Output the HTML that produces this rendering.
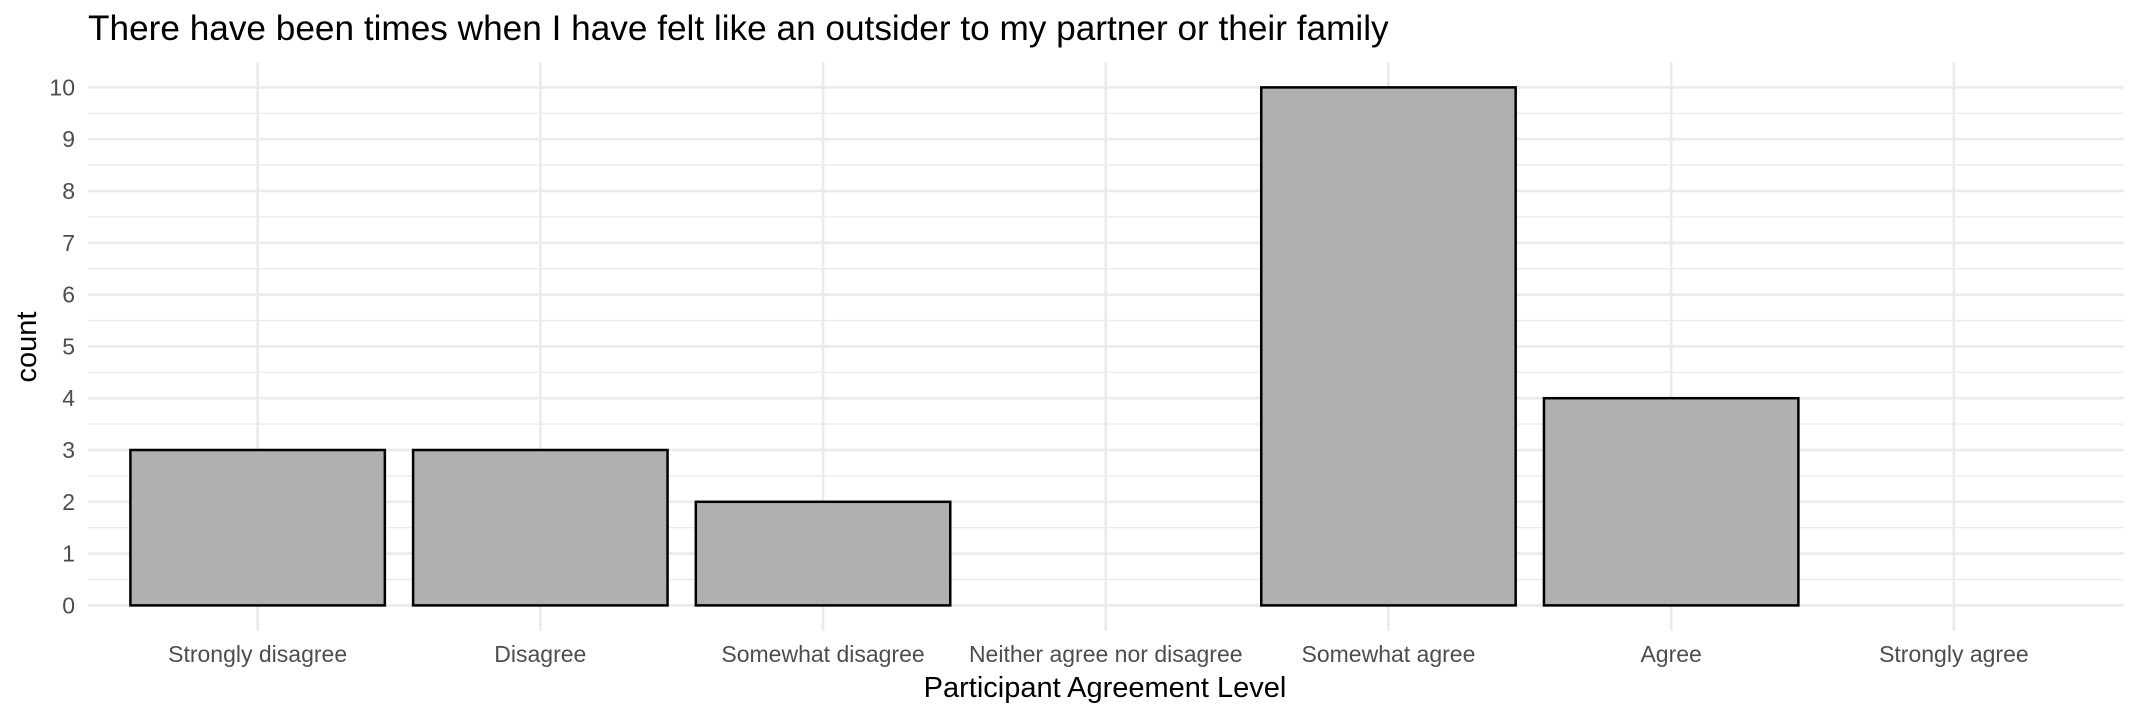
<!DOCTYPE html>
<html><head><meta charset="utf-8"><style>
html,body{margin:0;padding:0;background:#fff}
svg{display:block;font-family:"Liberation Sans",Arial,sans-serif}
</style></head><body>
<svg id="chart" width="2138" height="716" viewBox="0 0 2138 716" xmlns="http://www.w3.org/2000/svg">
<text x="88" y="40" font-size="35.2" fill="#000">There have been times when I have felt like an outsider to my partner or their family</text>
<g id="grid"></g>
<g id="bars"></g>
<g id="ticks"></g>
<text transform="translate(36,347) rotate(-90)" text-anchor="middle" font-size="29" fill="#000">count</text>
<text x="1105" y="697" text-anchor="middle" font-size="29" fill="#000">Participant Agreement Level</text>
</svg>
<script>
const categories = ["Strongly disagree","Disagree","Somewhat disagree","Neither agree nor disagree","Somewhat agree","Agree","Strongly agree"];
const counts = [3,3,2,0,10,4,0];
const yTicks = [0,1,2,3,4,5,6,7,8,9,10];

const NS="http://www.w3.org/2000/svg";
const pL=88,pR=2123.5,pT=62,pB=631;
const y0=605.4,unit=51.8;
const y=v=>y0-v*unit;
const step=(pR-pL)/(categories.length+0.2);
const x=i=>pL+(0.6+i)*step;
function mk(tag,attrs,parent){const e=document.createElementNS(NS,tag);for(const k in attrs)e.setAttribute(k,attrs[k]);parent.appendChild(e);return e;}
const grid=document.getElementById('grid'),bars=document.getElementById('bars'),ticks=document.getElementById('ticks');
const yMin=(pB-y0)/-unit, yMax=(y0-pT)/unit;
for(let v=Math.ceil(yMin*2)/2; v<=yMax; v+=0.5){
  if(Math.abs(v-Math.round(v))<1e-6) continue;
  const l=mk('line',{x1:pL,x2:pR,y1:y(v),y2:y(v),stroke:'#ebebeb','stroke-width':1.4},grid);
  
  
}
yTicks.forEach(v=>{
  const l=mk('line',{x1:pL,x2:pR,y1:y(v),y2:y(v),stroke:'#ebebeb','stroke-width':2.7},grid);
  
  
  const t=mk('text',{x:75,y:y(v)+8,'text-anchor':'end','font-size':23,fill:'#4d4d4d'},ticks);
  t.textContent=v;
  
  
});
categories.forEach((c,i)=>{
  const l=mk('line',{x1:x(i),x2:x(i),y1:pT,y2:pB,stroke:'#ebebeb','stroke-width':2.7},grid);
  
  
  const t=mk('text',{x:x(i),y:662,'text-anchor':'middle','font-size':23,fill:'#4d4d4d'},ticks);
  t.textContent=c;
  
  
  if(counts[i]>0){
    const w=0.9*step;
    const r=mk('rect',{x:x(i)-w/2,y:y(counts[i]),width:w,height:y(0)-y(counts[i]),fill:'#b0b0b0',stroke:'#000','stroke-width':2.5},bars);
    
    
  }
});
</script>
</body></html>
